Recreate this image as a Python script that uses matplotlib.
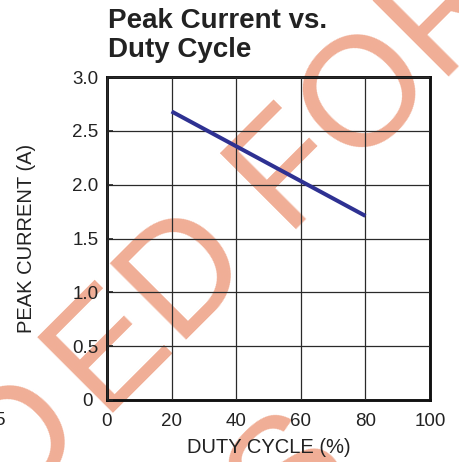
import numpy as np
import matplotlib
matplotlib.use("Agg")
import matplotlib.pyplot as plt
from matplotlib.transforms import ScaledTranslation

# ---- data ----
duty_cycle = [20, 80]          # %
peak_current = [2.68, 1.71]    # A
x_ticks = [0, 20, 40, 60, 80, 100]
x_tick_labels = ["0", "20", "40", "60", "80", "100"]
y_ticks = [0, 0.5, 1.0, 1.5, 2.0, 2.5, 3.0]
y_tick_labels = ["0", "0.5", "1.0", "1.5", "2.0", "2.5", "3.0"]
title_text = "Peak Current vs.\nDuty Cycle"
x_label = "DUTY CYCLE (%)"
y_label = "PEAK CURRENT (A)"
wm_line1_a = "NOT RECOMMEND"
wm_line1_b = "ED FOR NEW DESIGNS"
wm_line2_fragment = "S"
edge_fragment = "5"

W, H = 459, 462
DPI = 100
plt.rcParams['font.family'] = ['Liberation Sans', 'DejaVu Sans']

fig = plt.figure(figsize=(W / DPI, H / DPI), dpi=DPI)
fig.patch.set_facecolor("white")

def fx(x):
    return x / W

def fy(y):
    return (H - y) / H

# ---- watermark (behind everything) ----
wm_color = "#F0AE96"
wm_size = 112
wm_kw = dict(rotation=45, rotation_mode="anchor", va="baseline",
             fontsize=wm_size, color=wm_color, zorder=-5)
fig.text(fx(91), fy(436), wm_line1_a, ha="right", **wm_kw)
fig.text(fx(105), fy(422), wm_line1_b, ha="left", **wm_kw)
fig.text(fx(283), fy(541), wm_line2_fragment, ha="left", **wm_kw)

# fragment of a neighbouring chart's tick label, cut by the left edge
fig.text(fx(5), fy(425), edge_fragment, ha="right", va="baseline",
         fontsize=13.5, color="#222222")

# ---- axes ----
ax = fig.add_axes([fx(107), fy(400), (430 - 107) / W, (400 - 77) / H])
ax.patch.set_alpha(0)
ax.plot(duty_cycle, peak_current, color="#2E3192", linewidth=2.9,
        solid_capstyle="butt", zorder=3)

ax.set_xlim(0, 100)
ax.set_ylim(0, 3.0)
ax.set_xticks(x_ticks)
ax.set_xticklabels(x_tick_labels)
ax.set_yticks(y_ticks)
ax.set_yticklabels(y_tick_labels)
ax.grid(True, color="#2a2a2a", linewidth=0.9)
ax.set_axisbelow(False)
for s in ax.spines.values():
    s.set_linewidth(2.1)
    s.set_color("#111111")

ax.tick_params(axis="x", length=0, pad=9, labelsize=13.5, colors="#222222")
ax.tick_params(axis="y", direction="in", length=4, width=1.2, pad=6,
               labelsize=13.5, colors="#222222")

# the y "0" label sits a bit further left in the reference
lbl0 = ax.get_yticklabels()[0]
lbl0.set_transform(lbl0.get_transform() + ScaledTranslation(-6 / DPI, 0, fig.dpi_scale_trans))

ax.set_xlabel(x_label, fontsize=14.5, color="#222222", labelpad=6)
ax.set_ylabel(y_label, fontsize=14.5, color="#222222", labelpad=26)

fig.text(fx(108), fy(8), title_text, ha="left", va="top", fontsize=20,
         fontweight="bold", color="#222222", linespacing=1.17)

fig.savefig("out.png", dpi=DPI, facecolor="white")
